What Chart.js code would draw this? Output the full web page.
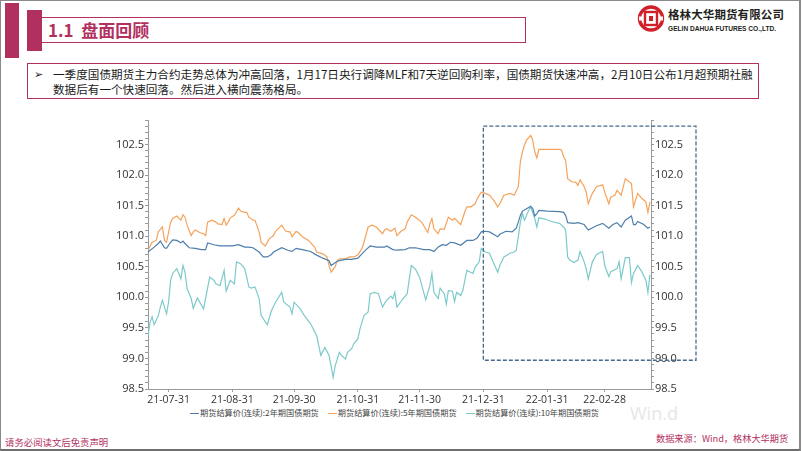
<!DOCTYPE html>
<html>
<head>
<meta charset="utf-8">
<script src="https://cdn.jsdelivr.net/npm/chart.js@4.4.0/dist/chart.umd.min.js"></script>
<style>
  html, body { margin: 0; padding: 0; background: #fff; }
  body { width: 802px; height: 451px; position: relative; overflow: hidden;
         font-family: "Noto Sans CJK SC", "Noto Sans", sans-serif; }
  .abs { position: absolute; }
  #frame { left: 0; top: 0; width: 798px; height: 448px; border: 1px solid #8a8a8a;
           border-right-width: 2px; border-bottom: 2px solid #6f6f6f; }
  .crimson { background: #b2305f; }
  #titlebox { left: 42px; top: 17px; width: 484px; height: 26px; box-sizing: border-box;
              border: 1px solid #b2305f; border-left: none; }
  #title { left: 48px; top: 19px; font-size: 17px; font-weight: bold; color: #b2305f;
           line-height: 22px; white-space: nowrap; }
  #bulletbox { left: 27px; top: 63px; width: 732px; height: 36px; box-sizing: border-box;
               border: 1px solid #b2305f; }
  #arrow { left: 34px; top: 68px; font-family: "DejaVu Sans", sans-serif; font-size: 11px; color: #222; }
  #bullet { left: 53px; top: 67px; font-size: 11.6px; line-height: 15px; color: #1a1a1a; white-space: nowrap; }
  #logoName { left: 668px; top: 6px; font-size: 11.5px; font-weight: bold; color: #231f20;
              letter-spacing: 0.1px; white-space: nowrap; line-height: 16px; }
  #logoEn { left: 668px; top: 24px; font-family: "Liberation Sans", Arial, sans-serif; font-size: 6.6px;
            font-weight: bold; color: #231f20; white-space: nowrap; line-height: 9px; }
  #legend { left: 190px; top: 406px; display: flex; gap: 9px; font-size: 8.2px; color: #444;
            line-height: 12px; white-space: nowrap; }
  #legend .key { display: inline-block; width: 9px; height: 1px; vertical-align: middle; margin-right: 1px; }
  #wind { left: 630px; top: 402px; font-family: "Open Sans", sans-serif; font-size: 18px; color: #e6e6e6;
          line-height: 22px; }
  #disclaimer { left: 5px; top: 436px; font-size: 9.4px; color: #b2305f; line-height: 13px; white-space: nowrap; }
  #source { left: 656px; top: 432px; font-size: 9.2px; color: #b2305f; line-height: 13px; white-space: nowrap; }
  canvas { position: absolute; left: 0; top: 0; }
</style>
</head>
<body>
<div id="frame" class="abs"></div>
<div class="abs crimson" style="left:5px;top:3px;width:14px;height:55px;"></div>
<div class="abs crimson" style="left:27px;top:10px;width:15px;height:41px;"></div>
<div id="titlebox" class="abs"></div>
<div id="title" class="abs">1.1&nbsp;&nbsp;盘面回顾</div>

<svg class="abs" style="left:637px;top:4px;" width="28" height="29" viewBox="0 0 28 29">
  <circle cx="14" cy="14.5" r="11.5" fill="none" stroke="#d0202a" stroke-width="3.4"/>
  <rect x="2" y="12.5" width="4" height="4" fill="#fff"/>
  <rect x="22" y="12.5" width="4" height="4" fill="#fff"/>
  <rect x="8" y="8" width="12" height="13" fill="none" stroke="#d0202a" stroke-width="2.4"/>
  <rect x="12" y="12" width="4" height="5" fill="#d0202a"/>
</svg>
<div id="logoName" class="abs">格林大华期货有限公司</div>
<div id="logoEn" class="abs">GELIN DAHUA FUTURES CO.,LTD.</div>

<div id="bulletbox" class="abs"></div>
<div id="arrow" class="abs">➢</div>
<div id="bullet" class="abs">一季度国债期货主力合约走势总体为冲高回落，1月17日央行调降MLF和7天逆回购利率，国债期货快速冲高，2月10日公布1月超预期社融<br>数据后有一个快速回落。然后进入横向震荡格局。</div>

<div id="wind" class="abs">Win.d</div>
<div id="legend" class="abs"></div>
<div id="disclaimer" class="abs">请务必阅读文后免责声明</div>
<div id="source" class="abs">数据来源：Wind，格林大华期货</div>

<canvas id="chart" width="802" height="451"></canvas>

<script>
// x values are calendar days counted from 2021-07-21
const tickDays = [10, 41, 71, 102, 132, 163, 194, 222];
const tickLabels = ['21-07-31', '21-08-31', '21-09-30', '21-10-31', '21-11-30', '21-12-31', '22-01-31', '22-02-28'];
const seriesNames = ['期货结算价(连续):2年期国债期货', '期货结算价(连续):5年期国债期货', '期货结算价(连续):10年期国债期货'];
const seriesColors = ['#4d7ead', '#f5a35c', '#7ccaca'];
const q1StartDay = 163;

const days2y = [0, 3, 5, 6, 8, 9, 11, 12, 14, 16, 17, 18, 20, 23, 26, 28, 29, 32, 35, 38, 41, 44, 47, 49, 51, 54, 56, 58,
  60, 61, 65, 68, 70, 72, 75, 79, 82, 85, 88, 89, 92, 93, 96, 99, 102, 104, 106, 108, 111, 115, 116, 119,
  121, 125, 127, 130, 134, 137, 139, 141, 143, 145, 147, 149, 152, 155, 158, 160, 162, 164, 166, 170, 171, 174, 177, 179,
  180, 181, 182, 184, 186, 187, 188, 189, 190, 194, 200, 202, 203, 204, 207, 209, 212, 214, 218, 221, 224, 226, 228, 230,
  232, 235, 236, 237, 238, 241, 243, 244];
const settle2y = [100.74, 100.82, 100.88, 100.92, 100.81, 100.80, 100.90, 100.94, 100.93, 100.89, 100.92, 100.88, 100.81, 100.80,
  100.78, 100.78, 100.89, 100.86, 100.84, 100.84, 100.84, 100.86, 100.82, 100.82, 100.81, 100.74, 100.66, 100.66,
  100.70, 100.74, 100.81, 100.77, 100.75, 100.80, 100.78, 100.75, 100.69, 100.64, 100.60, 100.52, 100.59, 100.60,
  100.62, 100.62, 100.64, 100.71, 100.78, 100.84, 100.82, 100.82, 100.84, 100.78,
  100.77, 100.78, 100.81, 100.81, 100.78, 100.78, 100.75, 100.82, 100.86, 100.85, 100.90, 100.89, 100.85, 100.93,
  100.93, 100.97, 101.07, 101.08, 101.07, 100.99, 101.03, 101.08, 101.07, 101.13,
  101.23, 101.34, 101.41, 101.45, 101.49, 101.45, 101.33, 101.37, 101.42, 101.41, 101.40, 101.39, 101.34, 101.22,
  101.21, 101.22, 101.19, 101.10, 101.17, 101.21, 101.13, 101.19, 101.22, 101.15, 101.26, 101.33, 101.19, 101.19,
  101.24, 101.19, 101.13, 101.15];

const days5y = [0, 2, 4, 5, 7, 8, 9, 11, 12, 14, 16, 17, 18, 19, 21, 22, 23, 25, 27, 28, 29, 31, 33, 34, 36, 37, 38, 39, 40,
  42, 44, 45, 47, 48, 49, 51, 52, 54, 55, 57,
  59, 61, 62, 65, 67, 69, 70, 72, 73, 75, 78, 81, 82, 85, 87, 88, 89, 91, 92, 93, 96, 98, 100, 102, 104, 105, 107, 109,
  111, 114, 115, 116, 118, 120,
  121, 123, 125, 126, 128, 130, 133, 136, 137, 138, 139, 141, 142, 144, 146, 148, 149, 152, 154, 155, 157, 159, 160, 162,
  164, 166, 168, 170, 171, 173, 176, 178, 180, 181,
  182, 183, 184, 186, 187, 188, 189, 190, 193, 196, 200, 201, 202, 203, 204, 206, 208, 209, 210, 212, 213, 214, 216, 218,
  221, 222, 224, 225, 227, 228, 230, 232, 235, 236, 237, 238, 240, 242, 243, 244];
const settle5y = [100.77, 100.90, 100.93, 101.07, 101.15, 100.93, 100.90, 101.23, 101.29, 101.33, 101.26, 101.35, 101.31, 101.18,
  101.01, 101.07, 101.10, 101.06, 101.04, 101.01, 101.23, 101.26, 101.23, 101.20, 101.19, 101.29, 101.18, 101.23,
  101.30, 101.34, 101.46, 101.41, 101.39, 101.39, 101.31, 101.26, 101.26, 101.07, 100.90, 100.84,
  100.96, 101.01, 101.08, 101.18, 101.08, 101.07, 100.99, 101.08, 101.06, 100.99, 100.93, 100.82, 100.74, 100.71,
  100.66, 100.52, 100.41, 100.50, 100.60, 100.63, 100.63, 100.66, 100.66, 100.69, 100.80, 100.90, 101.15, 101.18,
  101.15, 101.04, 101.10, 101.12, 101.08, 101.13,
  101.01, 101.08, 101.12, 101.23, 101.35, 101.31, 101.23, 101.06, 101.20, 101.29, 101.12, 101.04, 101.12, 101.11,
  101.31, 101.26, 101.29, 101.19, 101.40, 101.48, 101.48, 101.53, 101.61, 101.72, 101.70, 101.67, 101.59, 101.48,
  101.53, 101.67, 101.70, 101.67, 101.81, 102.22,
  102.38, 102.49, 102.57, 102.65, 102.57, 102.38, 102.28, 102.42, 102.42, 102.42, 102.42, 102.41, 102.30, 102.24,
  101.94, 101.89, 101.88, 101.83, 101.92, 101.81, 101.72, 101.53, 101.70, 101.81, 101.84, 101.72, 101.53, 101.64,
  101.67, 101.75, 101.67, 101.94, 101.86, 101.48, 101.59, 101.70, 101.62, 101.56, 101.39, 101.56];

const days10y = [0, 1, 2, 3, 5, 6, 7, 9, 10, 11, 12, 14, 16, 17, 18, 19, 21, 22, 24, 26, 27, 30, 32, 33, 35, 37, 38, 39, 40,
  42, 43, 45, 47, 48, 49, 50, 52, 54, 55, 58,
  59, 60, 62, 65, 66, 69, 70, 71, 74, 76, 79, 82, 83, 84, 86, 88, 89, 90, 91, 93, 94, 96, 97, 99, 100, 102, 103, 105,
  107, 108, 110, 112, 114, 115, 116, 118,
  119, 120, 121, 124, 126, 127, 128, 130, 132, 134, 135, 137, 138, 139, 141, 142, 144, 145, 146, 148, 149, 150, 152,
  153, 155, 158, 159, 161, 162, 164, 166, 168, 170, 171, 173, 176, 178, 179,
  180, 181, 182, 183, 185, 186, 188, 189, 190, 193, 196, 200, 202, 203, 204, 205, 207, 209, 210, 212, 213, 214, 216,
  218, 221, 222, 224, 225, 228, 229, 230, 232, 234, 235, 236, 238, 240, 242, 243, 244];
const settle10y = [99.37, 99.59, 99.68, 99.55, 99.70, 99.84, 99.95, 99.73, 99.92, 100.28, 100.39, 100.47, 100.30, 100.52,
  100.41, 100.14, 99.98, 99.82, 99.99, 99.87, 99.81, 100.33, 100.28, 100.22, 100.19, 100.44, 100.10, 100.19,
  100.28, 100.22, 100.58, 100.55, 100.47, 100.33, 100.17, 100.15, 100.17, 99.98, 99.70, 99.55,
  99.67, 99.78, 99.92, 100.08, 99.92, 99.84, 99.73, 99.92, 99.81, 99.70, 99.57, 99.37, 99.21, 99.05, 99.18, 99.05,
  98.88, 98.69, 98.88, 99.10, 99.05, 98.99, 99.10, 99.16, 99.24, 99.32, 99.48, 99.70, 99.76, 100.06, 100.08, 100.06,
  99.84, 99.90, 99.95, 100.02,
  99.98, 100.08, 99.84, 99.98, 100.06, 100.30, 100.52, 100.46, 100.33, 100.08, 99.96, 100.19, 100.39, 100.08, 99.98,
  100.15, 100.06, 99.89, 100.11, 100.10, 99.93, 100.08, 100.03, 100.11, 100.44, 100.39, 100.49, 100.58, 100.80,
  100.74, 100.72, 100.56, 100.41, 100.52, 100.66, 100.72, 100.74, 100.77,
  100.99, 101.23, 101.37, 101.26, 101.42, 101.48, 101.29, 101.15, 101.30, 101.28, 101.24, 101.21, 101.15, 101.10,
  100.66, 100.61, 100.57, 100.61, 100.75, 100.58, 100.47, 100.30, 100.58, 100.70, 100.75, 100.52, 100.34, 100.42,
  100.47, 100.58, 100.30, 100.65, 100.65, 100.24, 100.39, 100.52, 100.42, 100.28, 100.08, 100.37];

function toPoints(days, values) {
  return days.map((d, i) => ({ x: d, y: values[i] }));
}

// dashed box around the first quarter
const q1Box = {
  id: 'q1Box',
  afterDatasetsDraw(chart) {
    const { ctx, chartArea, scales } = chart;
    const x1 = scales.x.getPixelForValue(q1StartDay);
    const x2 = chartArea.right + 45;
    const y1 = scales.y.getPixelForValue(102.8);
    const y2 = scales.y.getPixelForValue(98.97);
    ctx.save();
    ctx.setLineDash([4, 2]);
    ctx.lineWidth = 1.3;
    ctx.strokeStyle = '#47698a';
    ctx.strokeRect(x1, y1, x2 - x1, y2 - y1);
    ctx.restore();
  }
};

Chart.defaults.font.family = '"Open Sans", "Noto Sans CJK SC", sans-serif';
Chart.defaults.color = '#333';

const axisGrid = { display: true, drawOnChartArea: false, drawTicks: true, tickLength: 3, color: '#9a9a9a' };
const axisBorder = { display: true, color: '#9a9a9a', width: 1 };
const yTicks = {
  stepSize: 0.1, autoSkip: false, includeBounds: false, padding: 1,
  font: { size: 11 }, color: '#333',
  callback: v => (Math.round(v * 10) % 5 === 0 ? v.toFixed(1) : '')
};

const chart = new Chart(document.getElementById('chart').getContext('2d'), {
  type: 'line',
  data: {
    datasets: [
      { label: seriesNames[0], data: toPoints(days2y, settle2y), borderColor: seriesColors[0], yAxisID: 'y' },
      { label: seriesNames[1], data: toPoints(days5y, settle5y), borderColor: seriesColors[1], yAxisID: 'y' },
      { label: seriesNames[2], data: toPoints(days10y, settle10y), borderColor: seriesColors[2], yAxisID: 'y' }
    ]
  },
  options: {
    responsive: false,
    animation: false,
    devicePixelRatio: 1,
    elements: { point: { radius: 0 }, line: { borderWidth: 1.2, tension: 0 } },
    layout: { padding: { left: 100, right: 102, top: 120, bottom: 30 } },
    plugins: { legend: { display: false }, tooltip: { enabled: false } },
    scales: {
      x: {
        type: 'linear', min: 0, max: 244.5,
        grid: axisGrid, border: axisBorder,
        afterBuildTicks: scale => { scale.ticks = tickDays.map(v => ({ value: v })); },
        afterFit: scale => { scale.height = 32; },
        ticks: {
          autoSkip: false, maxRotation: 0, padding: 2, font: { size: 10.5 }, color: '#333',
          callback: v => tickLabels[tickDays.indexOf(v)]
        }
      },
      y: {
        position: 'left', min: 98.5, max: 102.9,
        grid: axisGrid, border: axisBorder, ticks: yTicks,
        afterFit: scale => { scale.width = 48; }
      },
      y2: {
        position: 'right', min: 98.5, max: 102.9,
        grid: axisGrid, border: axisBorder, ticks: yTicks,
        afterFit: scale => { scale.width = 49; }
      }
    }
  },
  plugins: [q1Box]
});

// html legend from the datasets
const legend = document.getElementById('legend');
chart.data.datasets.forEach(ds => {
  const item = document.createElement('span');
  item.innerHTML = '<span class="key" style="background:' + ds.borderColor + '"></span>' + ds.label;
  legend.appendChild(item);
});
</script>
</body>
</html>
